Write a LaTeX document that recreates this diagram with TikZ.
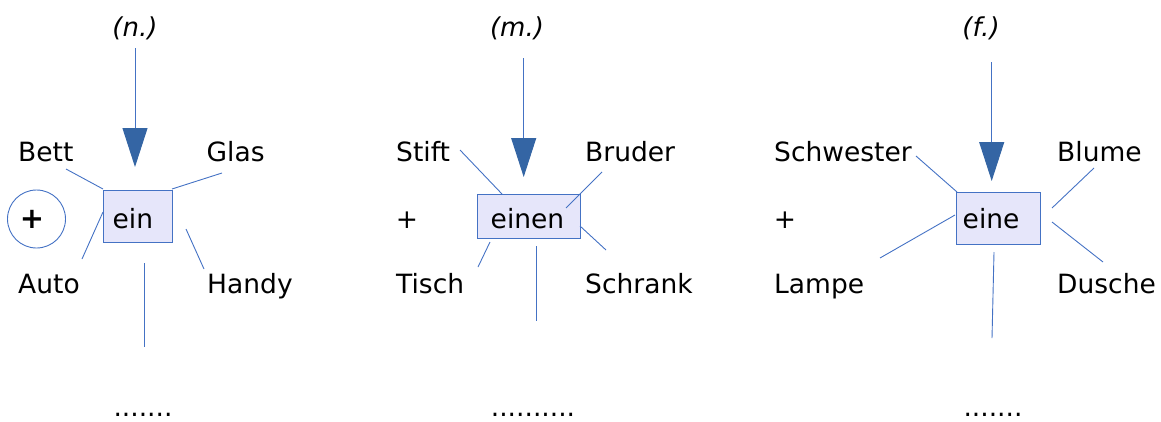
\documentclass[tikz,border=0pt]{standalone}
\usepackage{fontspec}
\setmainfont{DejaVu Sans}
\usetikzlibrary{arrows.meta}
\definecolor{lineblue}{HTML}{4472C4}
\definecolor{headblue}{HTML}{3465A4}
\definecolor{boxfill}{HTML}{E6E6FA}
\begin{document}
\begin{tikzpicture}[x=1pt,y=-1pt,
  word/.style={anchor=base west, inner sep=0pt, font=\fontsize{26.5}{31}\selectfont},
  cword/.style={anchor=base, inner sep=0pt, font=\fontsize{26.5}{31}\selectfont},
  gender/.style={anchor=base, inner sep=0pt, font=\fontsize{26}{31}\selectfont\itshape},
  artbox/.style={draw=lineblue, fill=boxfill, line width=1pt, inner sep=0pt},
  spoke/.style={draw=lineblue, line width=0.9pt},
  downarrow/.style={draw=lineblue, line width=1pt, -{Triangle[length=39pt,width=25pt,color=headblue,fill=headblue]}},
  plusring/.style={draw=lineblue, line width=0.9pt, circle, inner sep=0pt, minimum size=58pt},
]
\useasboundingbox (0,0) rectangle (1161,421);

% ---------- panel 1 (n.) ----------
\node[gender] (gn) at (135,36) {(n.)};
\coordinate (an1) at (135,48);
\coordinate (at1) at (135,167);
\draw[downarrow] (an1) -- (at1);
\node[artbox, minimum width=69pt, minimum height=52pt] (b1) at (137.5,216) {};
\node[word] (t1) at (112.5,228) {ein};
\node[word] (w1a) at (18,161) {Bett};
\node[word] (w1b) at (206.5,161) {Glas};
\node[word] (w1c) at (18,293) {Auto};
\node[word] (w1d) at (207,293) {Handy};
\draw[spoke] (66,169) coordinate (s1a) -- (103,189) coordinate (s1ae);
\draw[spoke] (222,173) coordinate (s1b) -- (172,189) coordinate (s1be);
\draw[spoke] (82,259) coordinate (s1c) -- (103,212) coordinate (s1ce);
\draw[spoke] (186,229) coordinate (s1d) -- (204,269) coordinate (s1de);
\draw[spoke] (144,263) coordinate (s1e) -- (144,347) coordinate (s1ee);
\node[cword] (d1) at (143,416) {.......};
\node[plusring] (ring) at (36.5,219) {};
\node[anchor=base, inner sep=0pt, font=\fontsize{29}{33}\selectfont\bfseries] (p1) at (32,228) {+};

% ---------- panel 2 (m.) ----------
\node[gender] (gm) at (517,36) {(m.)};
\coordinate (an2) at (523.7,58);
\coordinate (at2) at (523.7,177);
\draw[downarrow] (an2) -- (at2);
\node[artbox, minimum width=103pt, minimum height=44pt] (b2) at (528.5,216) {};
\node[word] (t2) at (490.5,228) {einen};
\node[word] (w2a) at (396,161) {Stift};
\node[word] (w2b) at (585,161) {Bruder};
\node[word] (w2c) at (396,293) {Tisch};
\node[word] (w2d) at (585,293) {Schrank};
\node[cword] (p2) at (407,228) {+};
\draw[spoke] (460,150) coordinate (s2a) -- (502,194) coordinate (s2ae);
\draw[spoke] (602,172) coordinate (s2b) -- (566,208) coordinate (s2be);
\draw[spoke] (490,242) coordinate (s2c) -- (478,267) coordinate (s2ce);
\draw[spoke] (580,226) coordinate (s2d) -- (606,250) coordinate (s2de);
\draw[spoke] (536,246) coordinate (s2e) -- (536,321) coordinate (s2ee);
\node[cword] (d2) at (533,416) {..........};

% ---------- panel 3 (f.) ----------
\node[gender] (gf) at (981,36) {(f.)};
\coordinate (an3) at (991.7,62);
\coordinate (at3) at (991.7,181);
\draw[downarrow] (an3) -- (at3);
\node[artbox, minimum width=84pt, minimum height=52pt] (b3) at (998,218) {};
\node[word] (t3) at (962.5,228) {eine};
\node[word] (w3a) at (774,161) {Schwester};
\node[word] (w3b) at (1057,161) {Blume};
\node[word] (w3c) at (774,293) {Lampe};
\node[word] (w3d) at (1057,293) {Dusche};
\node[cword] (p3) at (785,228) {+};
\draw[spoke] (916,156) coordinate (s3a) -- (957,192) coordinate (s3ae);
\draw[spoke] (1094,168) coordinate (s3b) -- (1052,208) coordinate (s3be);
\draw[spoke] (880,258) coordinate (s3c) -- (955,215) coordinate (s3ce);
\draw[spoke] (1052,222) coordinate (s3d) -- (1103,262) coordinate (s3de);
\draw[spoke] (994,252) coordinate (s3e) -- (992,338) coordinate (s3ee);
\node[cword] (d3) at (993,416) {.......};
\end{tikzpicture}
\end{document}
